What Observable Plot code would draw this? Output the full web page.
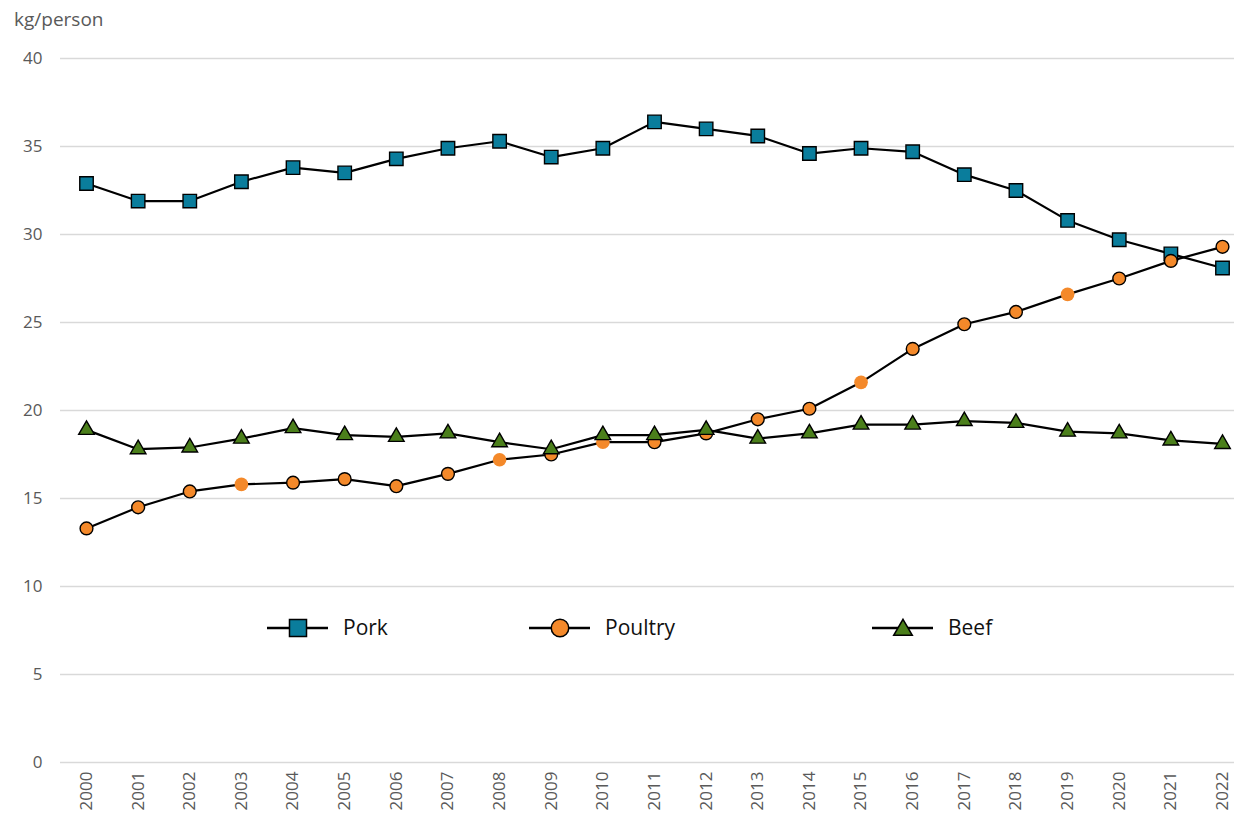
<!DOCTYPE html>
<html>
<head>
<meta charset="utf-8">
<script src="https://cdn.jsdelivr.net/npm/d3@7"></script>
<script src="https://cdn.jsdelivr.net/npm/@observablehq/plot@0.6"></script>
<style>
  html, body { margin: 0; padding: 0; background: #fff; }
  #chart { position: relative; width: 1234px; height: 814px; overflow: hidden; font-family: "Open Sans", sans-serif; }
  #unit { position: absolute; left: 14px; top: 6px; font-size: 19px; color: #595959; }
  #legend { position: absolute; left: 0; top: 0; }
  #chart svg.plot { max-width: none; }
  #chart svg.plot text { fill: #595959; }
  #chart svg.plot g[aria-label="y-axis tick label"] { font-size: 17px; }
  #chart svg.plot g[aria-label="x-axis tick label"] { font-size: 17px; }
</style>
</head>
<body>
<div id="chart">
  <div id="unit">kg/person</div>
</div>
<script>
// Per-capita meat consumption, kg/person
const years = [2000, 2001, 2002, 2003, 2004, 2005, 2006, 2007, 2008, 2009, 2010, 2011,
               2012, 2013, 2014, 2015, 2016, 2017, 2018, 2019, 2020, 2021, 2022];
const pork    = [32.9, 31.9, 31.9, 33.0, 33.8, 33.5, 34.3, 34.9, 35.3, 34.4, 34.9, 36.4,
                 36.0, 35.6, 34.6, 34.9, 34.7, 33.4, 32.5, 30.8, 29.7, 28.9, 28.1];
const poultry = [13.3, 14.5, 15.4, 15.8, 15.9, 16.1, 15.7, 16.4, 17.2, 17.5, 18.2, 18.2,
                 18.7, 19.5, 20.1, 21.6, 23.5, 24.9, 25.6, 26.6, 27.5, 28.5, 29.3];
const beef    = [18.9, 17.8, 17.9, 18.4, 19.0, 18.6, 18.5, 18.7, 18.2, 17.8, 18.6, 18.6,
                 18.9, 18.4, 18.7, 19.2, 19.2, 19.4, 19.3, 18.8, 18.7, 18.3, 18.1];
// Poultry years whose marker is drawn without an outline
const poultryPlainYears = [2003, 2008, 2010, 2015, 2019];
const seriesNames = ["Pork", "Poultry", "Beef"];
const yTicks = [0, 5, 10, 15, 20, 25, 30, 35, 40];

const colors = { Pork: "#0a7d9c", Poultry: "#f4892a", Beef: "#4b7f1b" };

const rows = years.map((year, i) => ({
  year, pork: pork[i], poultry: poultry[i], beef: beef[i],
  plain: poultryPlainYears.includes(year)
}));

const chart = Plot.plot({
  width: 1234,
  height: 814,
  marginTop: 58,
  marginBottom: 52,
  marginLeft: 60,
  marginRight: 0,
  style: { fontFamily: "'Open Sans', sans-serif", background: "transparent", overflow: "visible" },
  x: { type: "linear", domain: [years[0], years[years.length - 1]], range: [86, 1222] },
  y: { domain: [0, 40] },
  marks: [
    Plot.ruleY(yTicks, { stroke: "#d9d9d9", strokeWidth: 1.5 }),
    Plot.axisY({ ticks: yTicks, tickSize: 0, tickPadding: 18, label: null }),
    Plot.axisX({ ticks: years, tickFormat: d => String(d), tickSize: 0, tickPadding: 9,
                 tickRotate: -90, label: null }),

    // Pork
    Plot.line(rows, { x: "year", y: "pork", stroke: "#000", strokeWidth: 2.2 }),
    Plot.dot(rows, { x: "year", y: "pork", symbol: "square", r: 7.6,
                     fill: colors.Pork, stroke: "#000", strokeWidth: 1.4 }),

    // Poultry
    Plot.line(rows, { x: "year", y: "poultry", stroke: "#000", strokeWidth: 2.2 }),
    Plot.dot(rows.filter(d => !d.plain), { x: "year", y: "poultry", symbol: "circle", r: 6.4,
                     fill: colors.Poultry, stroke: "#000", strokeWidth: 1.4 }),
    Plot.dot(rows.filter(d => d.plain), { x: "year", y: "poultry", symbol: "circle", r: 6.8,
                     fill: colors.Poultry, stroke: "none" }),

    // Beef
    Plot.line(rows, { x: "year", y: "beef", stroke: "#000", strokeWidth: 2.2 }),
    Plot.dot(rows, { x: "year", y: "beef", symbol: "triangle", r: 5.8,
                     fill: colors.Beef, stroke: "#000", strokeWidth: 1.4 })
  ]
});
chart.classList.add("plot");
document.getElementById("chart").appendChild(chart);

// Legend drawn inside the plot area
const legendLayout = [
  { name: seriesNames[0], x0: 267, symbol: d3.symbolSquare, size: 290 },
  { name: seriesNames[1], x0: 529, symbol: d3.symbolCircle, size: 240 },
  { name: seriesNames[2], x0: 872, symbol: d3.symbolTriangle, size: 150 }
];
const legendY = 628;
const legend = d3.select("#chart").append("svg")
  .attr("id", "legend").attr("width", 1234).attr("height", 814);
for (const item of legendLayout) {
  const g = legend.append("g");
  g.append("line")
    .attr("x1", item.x0).attr("x2", item.x0 + 61)
    .attr("y1", legendY).attr("y2", legendY)
    .attr("stroke", "#000").attr("stroke-width", 2.5);
  g.append("path")
    .attr("d", d3.symbol(item.symbol, item.size)())
    .attr("transform", `translate(${item.x0 + 31},${legendY + (item.symbol === d3.symbolTriangle ? 2 : 0)})`)
    .attr("fill", colors[item.name]).attr("stroke", "#000").attr("stroke-width", 1.5);
  g.append("text")
    .attr("x", item.x0 + 76).attr("y", legendY)
    .attr("dy", "0.35em")
    .attr("font-family", "'Open Sans', sans-serif")
    .attr("font-size", 21)
    .attr("fill", "#111")
    .text(item.name);
}
</script>
</body>
</html>
